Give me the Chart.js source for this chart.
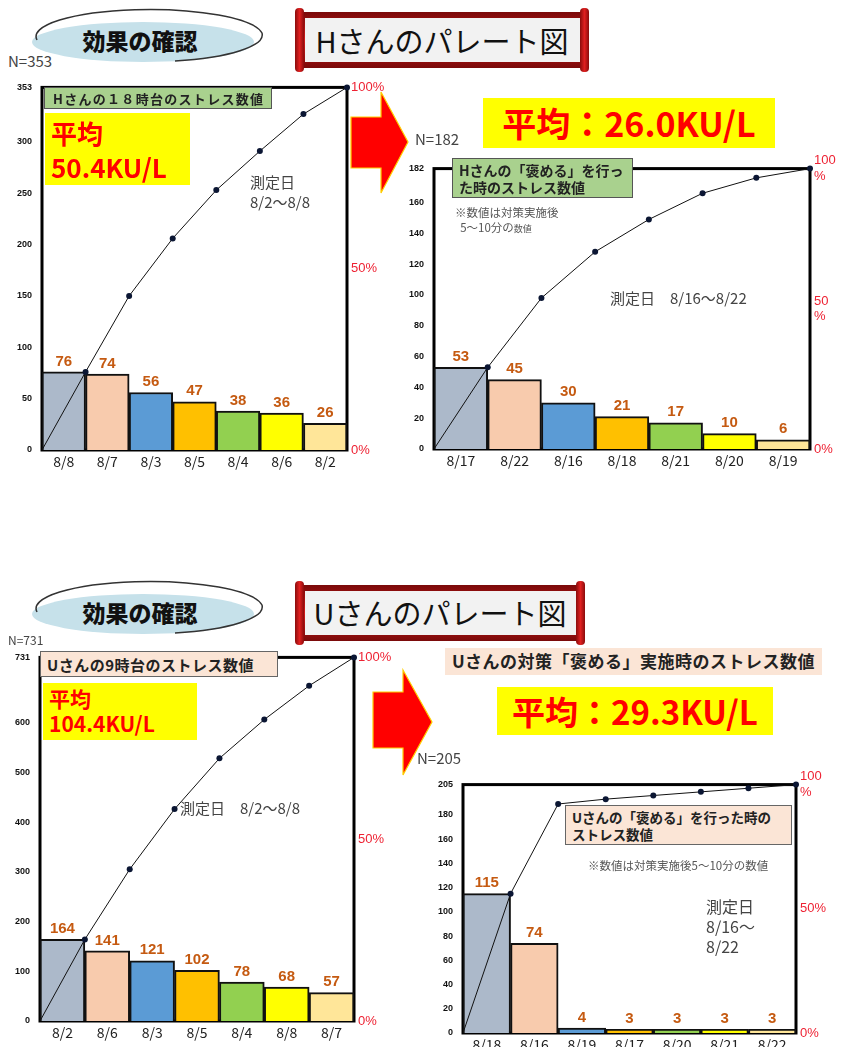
<!DOCTYPE html>
<html><head><meta charset="utf-8">
<script src="https://cdn.jsdelivr.net/npm/chart.js@4.4.1/dist/chart.umd.min.js"></script>
<style>
html,body{margin:0;padding:0;}
body{width:846px;height:1047px;overflow:hidden;background:#fff;position:relative;font-family:"Noto Sans CJK JP","Noto Sans",sans-serif;color:#222;}
.a{position:absolute;white-space:nowrap;}
canvas{position:absolute;}
.nlab{font-size:15px;color:#444;font-family:"Noto Sans CJK JP";}
.green{background:#a9d18e;border:1px solid #555;font-weight:700;color:#222;}
.pink{background:#fbe5d6;border:1px solid #666;font-weight:700;color:#222;}
.yel{background:#ffff00;color:#ff0000;font-weight:700;}
.gray{color:#444;}
</style></head><body>

<!-- decorative banners -->
<svg class="a" style="left:0;top:0" width="846" height="1047">
  <defs>
    <linearGradient id="rg" x1="0" y1="0" x2="0" y2="1">
      <stop offset="0" stop-color="#7a0a0a"/><stop offset="0.5" stop-color="#d01818"/><stop offset="1" stop-color="#7a0a0a"/>
    </linearGradient>
    <linearGradient id="rv" x1="0" y1="0" x2="1" y2="0">
      <stop offset="0" stop-color="#8a0c0c"/><stop offset="0.5" stop-color="#e02020"/><stop offset="1" stop-color="#8a0c0c"/>
    </linearGradient>
  </defs>
  <!-- top effect banner -->
  <ellipse cx="143" cy="42" rx="111" ry="20" fill="#c6e1ea"/>
  <path d="M 37 40 A 113 27 0 0 1 262 33 A 113 27 0 0 1 175 61" fill="none" stroke="#333" stroke-width="1.5"/>
  <!-- top scroll -->
  <rect x="300" y="12" width="284" height="56" fill="url(#rg)"/>
  <rect x="305" y="18" width="276" height="44" fill="#f2f2f2"/>
  <rect x="295" y="8" width="9" height="64" rx="4" fill="url(#rv)"/>
  <rect x="580" y="8" width="9" height="64" rx="4" fill="url(#rv)"/>
  <!-- bottom effect banner -->
  <ellipse cx="143" cy="614" rx="111" ry="20" fill="#c6e1ea"/>
  <path d="M 37 612 A 113 27 0 0 1 262 605 A 113 27 0 0 1 175 633" fill="none" stroke="#333" stroke-width="1.5"/>
  <!-- bottom scroll -->
  <rect x="300" y="585" width="280" height="56" fill="url(#rg)"/>
  <rect x="305" y="591" width="272" height="44" fill="#f2f2f2"/>
  <rect x="295" y="581" width="9" height="64" rx="4" fill="url(#rv)"/>
  <rect x="576" y="581" width="9" height="64" rx="4" fill="url(#rv)"/>
  <!-- arrows -->
  <polygon points="351,117 381,117 381,92 408,142 381,193 381,168 351,168" fill="#ff0000" stroke="#ffd000" stroke-width="1.2"/>
  <polygon points="373,692 403,692 403,670 432,722 403,775 403,748 373,748" fill="#ff0000" stroke="#ffd000" stroke-width="1.2"/>
</svg>

<div class="a" style="left:140px;top:40px;transform:translate(-50%,-50%);font-size:23px;font-weight:900;color:#111;">効果の確認</div>
<div class="a" style="left:442px;top:40px;transform:translate(-50%,-50%);font-size:29px;color:#111;">Hさんのパレート図</div>
<div class="a" style="left:140px;top:612px;transform:translate(-50%,-50%);font-size:23px;font-weight:900;color:#111;">効果の確認</div>
<div class="a" style="left:440px;top:612px;transform:translate(-50%,-50%);font-size:29px;color:#111;">Uさんのパレート図</div>

<canvas id="c1" width="400" height="402" style="left:0px;top:72px"></canvas>
<canvas id="c2" width="456" height="326" style="left:390px;top:149px"></canvas>
<canvas id="c3" width="400" height="405" style="left:0px;top:642px"></canvas>
<canvas id="c4" width="426" height="292" style="left:420px;top:765px"></canvas>

<!-- chart 1 annotations -->
<div class="a nlab" style="left:8px;top:50px;font-size:15px;">N=353</div>
<div class="a green" style="left:44px;top:87px;width:228px;height:22px;font-size:13px;line-height:22px;padding-left:8px;box-sizing:border-box;letter-spacing:1.3px;">Hさんの１８時台のストレス数値</div>
<div class="a yel" style="left:45px;top:113px;width:145px;height:72px;font-size:26px;line-height:34px;padding:3px 0 0 6px;box-sizing:border-box;">平均<br>50.4KU/L</div>
<div class="a gray" style="left:250px;top:172px;font-size:15px;line-height:20px;">測定日<br>8/2～8/8</div>

<!-- chart 2 annotations -->
<div class="a yel" style="left:483px;top:98px;width:292px;height:50px;font-size:34px;line-height:50px;text-align:center;">平均：26.0KU/L</div>
<div class="a nlab" style="left:415px;top:128px;">N=182</div>
<div class="a green" style="left:452px;top:158px;width:181px;height:40px;font-size:14px;line-height:17px;padding:3px 0 0 6px;box-sizing:border-box;">Hさんの「褒める」を行っ<br>た時のストレス数値</div>
<div class="a gray" style="left:455px;top:205px;font-size:11.5px;line-height:15px;color:#555;">※数値は対策実施後<br>&nbsp;&nbsp;5～10分の<span style="font-size:9px">数値</span></div>
<div class="a gray" style="left:610px;top:287px;font-size:15px;">測定日　8/16～8/22</div>

<!-- chart 3 annotations -->
<div class="a nlab" style="left:8px;top:631px;font-size:12px;">N=731</div>
<div class="a pink" style="left:40px;top:651px;width:238px;height:26px;font-size:15px;line-height:25px;padding-left:6px;box-sizing:border-box;letter-spacing:0.5px;">Uさんの9時台のストレス数値</div>
<div class="a yel" style="left:43px;top:683px;width:154px;height:57px;font-size:21px;line-height:25px;padding:3px 0 0 6px;box-sizing:border-box;">平均<br>104.4KU/L</div>
<div class="a gray" style="left:180px;top:797px;font-size:15px;">測定日　8/2～8/8</div>

<!-- chart 4 annotations -->
<div class="a pink" style="left:445px;top:648px;width:377px;height:27px;font-size:17px;line-height:26px;text-align:center;box-sizing:border-box;border:none;letter-spacing:0.5px;">Uさんの対策「褒める」実施時のストレス数値</div>
<div class="a yel" style="left:497px;top:687px;width:276px;height:48px;font-size:33px;line-height:48px;text-align:center;">平均：29.3KU/L</div>
<div class="a nlab" style="left:417px;top:747px;">N=205</div>
<div class="a pink" style="left:565px;top:805px;width:227px;height:40px;font-size:13.5px;line-height:17px;padding:3px 0 0 6px;box-sizing:border-box;">Uさんの「褒める」を行った時の<br>ストレス数値</div>
<div class="a gray" style="left:588px;top:857px;font-size:11.5px;color:#555;">※数値は対策実施後5～10分の数値</div>
<div class="a gray" style="left:706px;top:896px;font-size:16px;line-height:20px;">測定日<br>8/16～<br>8/22</div>

<script>
// ---- data ----
const hBeforeDates = ['8/8','8/7','8/3','8/5','8/4','8/6','8/2'];
const hBeforeValues = [76, 74, 56, 47, 38, 36, 26];
const hBeforeCumulative = [76, 150, 206, 253, 291, 327, 353];
const hBeforeTicks = [0, 50, 100, 150, 200, 250, 300, 353];

const hAfterDates = ['8/17','8/22','8/16','8/18','8/21','8/20','8/19'];
const hAfterValues = [53, 45, 30, 21, 17, 10, 6];
const hAfterCumulative = [53, 98, 128, 149, 166, 176, 182];
const hAfterTicks = [0, 20, 40, 60, 80, 100, 120, 140, 160, 182];

const uBeforeDates = ['8/2','8/6','8/3','8/5','8/4','8/8','8/7'];
const uBeforeValues = [164, 141, 121, 102, 78, 68, 57];
const uBeforeCumulative = [164, 305, 426, 528, 606, 674, 731];
const uBeforeTicks = [0, 100, 200, 300, 400, 500, 600, 731];

const uAfterDates = ['8/18','8/16','8/19','8/17','8/20','8/21','8/22'];
const uAfterValues = [115, 74, 4, 3, 3, 3, 3];
const uAfterCumulative = [115, 189, 193, 196, 199, 202, 205];
const uAfterTicks = [0, 20, 40, 60, 80, 100, 120, 140, 160, 180, 205];

const pctTicks = [0, 50, 100];
const pctLabelsInline = ['0%', '50%', '100%'];
const pctLabelsStacked = ['0%', ['50', '%'], ['100', '%']];
const pctLabelsMixed = ['0%', '50%', ['100', '%']];

const barColors = ['#acb9ca', '#f8cbad', '#5b9bd5', '#ffc000', '#92d050', '#ffff00', '#ffe699'];

// ---- drawing ----
const framePlugin = {
  id: 'frame',
  beforeDatasetsDraw(chart) {
    const {ctx, chartArea: a} = chart;
    ctx.save();
    ctx.lineWidth = 3; ctx.strokeStyle = '#000';
    ctx.strokeRect(a.left, a.top, a.right - a.left, a.bottom - a.top);
    ctx.restore();
  },
  afterDatasetsDraw(chart) {
    const {ctx} = chart;
    const ds = chart.data.datasets[1];
    const meta = chart.getDatasetMeta(1);
    ctx.save();
    ctx.font = 'bold 15px "Liberation Sans", Arial, sans-serif';
    ctx.fillStyle = '#c55a11';
    ctx.textAlign = 'center';
    ctx.textBaseline = 'bottom';
    meta.data.forEach((el, i) => ctx.fillText(String(ds.data[i]), el.x, el.y - 3));
    ctx.restore();
  }
};

function pareto(id, dates, values, cum, ticks, pctLabels, g) {
  const linePts = [{x: 0, y: 0}].concat(cum.map((v, i) => ({x: i + 1, y: v})));
  new Chart(document.getElementById(id), {
    type: 'bar',
    data: {
      labels: dates,
      datasets: [
        {type: 'line', data: linePts, xAxisID: 'x2', yAxisID: 'y', borderColor: '#111', borderWidth: 1,
         pointRadius: c => c.dataIndex === 0 ? 0 : 3, pointBackgroundColor: '#0b1633', pointBorderWidth: 0,
         tension: 0, order: 0, clip: false},
        {type: 'bar', data: values, xAxisID: 'x', yAxisID: 'y', backgroundColor: barColors, borderColor: '#111', borderWidth: 2,
         categoryPercentage: 1, barPercentage: 1, grouped: false, order: 1}
      ]
    },
    options: {
      responsive: false, animation: false, devicePixelRatio: 1,
      layout: {padding: {top: g.pt, left: 0, right: 0, bottom: 0}},
      plugins: {legend: {display: false}, tooltip: {enabled: false}},
      scales: {
        x: {type: 'category', offset: true, grid: {display: false, drawTicks: false, offset: true}, border: {display: false},
            ticks: {color: '#222', font: {size: 14, family: '"Noto Sans CJK JP"'}, padding: 3, maxRotation: 0, autoSkip: false},
            afterFit(s) { s.height = g.xh; }},
        x2: {type: 'linear', min: 0, max: dates.length, display: false, offset: false, grid: {offset: false}},
        y: {type: 'linear', min: 0, max: ticks[ticks.length - 1],
            afterBuildTicks(s) { s.ticks = ticks.map(v => ({value: v})); },
            grid: {display: false, drawTicks: false}, border: {display: false},
            ticks: {color: '#111', font: {size: 9, weight: 'bold', family: '"Liberation Sans", Arial'}, padding: g.yp},
            afterFit(s) { s.width = g.yw; }},
        y1: {type: 'linear', position: 'right', min: 0, max: 100,
            afterBuildTicks(s) { s.ticks = pctTicks.map(v => ({value: v})); },
            grid: {display: false, drawTicks: false}, border: {display: false},
            ticks: {color: '#ee2233', font: {size: 13, family: '"Liberation Sans", Arial'}, padding: 4,
                    callback: v => pctLabels[pctTicks.indexOf(v)]},
            afterFit(s) { s.width = g.rw; }}
      }
    },
    plugins: [framePlugin]
  });
}

pareto('c1', hBeforeDates, hBeforeValues, hBeforeCumulative, hBeforeTicks, pctLabelsInline, {pt: 10, xh: 24, yw: 42, rw: 53, yp: 10});
pareto('c2', hAfterDates, hAfterValues, hAfterCumulative, hAfterTicks, pctLabelsStacked, {pt: 8, xh: 26, yw: 44, rw: 36, yp: 10});
pareto('c3', uBeforeDates, uBeforeValues, uBeforeCumulative, uBeforeTicks, pctLabelsInline, {pt: 8, xh: 26, yw: 40, rw: 46, yp: 10});
pareto('c4', uAfterDates, uAfterValues, uAfterCumulative, uAfterTicks, pctLabelsMixed, {pt: 8, xh: 24, yw: 43, rw: 50, yp: 10});
</script>
</body></html>
